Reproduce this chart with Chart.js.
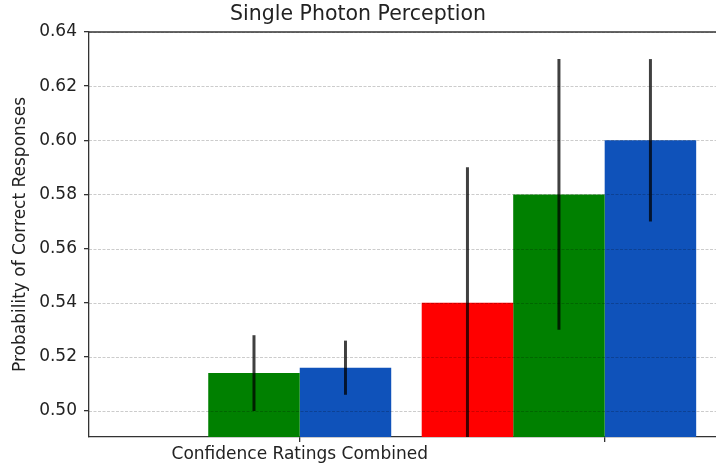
<!DOCTYPE html>
<html>
<head>
<meta charset="utf-8">
<script src="https://cdn.jsdelivr.net/npm/chart.js@4.4.1/dist/chart.umd.min.js"></script>
<style>
  html, body { margin: 0; padding: 0; background: #fff; }
  #wrap { width: 716px; height: 467px; }
</style>
</head>
<body>
<div id="wrap"><canvas id="chart" width="716" height="467"></canvas></div>
<script>
// centres des groupes de barres, et positions / étiquettes des graduations x
const groupes = [0, 1];
const ticksX = [0.15, 1.15];
const etiquettesX = ["Confidence Ratings Combined", ""];

// probabilités moyennes et barres d'erreur par série
const valeursRouge = [null, 0.54];
const erreursRouge = [null, 0.05];
const valeursVert = [0.514, 0.58];
const erreursVert = [0.014, 0.05];
const valeursBleu = [0.516, 0.60];
const erreursBleu = [0.01, 0.03];

const ticksY = [0.50, 0.52, 0.54, 0.56, 0.58, 0.60, 0.62, 0.64];

const texte = "#222";
const police = "'DejaVu Sans', sans-serif";

function serie(valeurs, erreurs, couleur) {
    return {
        data: groupes.map((g, i) => ({ x: g, y: valeurs[i] })),
        erreurs: erreurs,
        backgroundColor: couleur,
        borderWidth: 0,
        barPercentage: 1.0,
        categoryPercentage: 0.9
    };
}

// grille pointillée, barres d'erreur et bord haut par-dessus les barres
const dessusBarres = {
    id: "dessusBarres",
    afterDatasetsDraw(chart) {
        const ctx = chart.ctx;
        const zone = chart.chartArea;
        const y = chart.scales.y;

        ctx.save();
        ctx.beginPath();
        ctx.rect(zone.left, zone.top, zone.right - zone.left, zone.bottom - zone.top);
        ctx.clip();

        ctx.strokeStyle = "rgba(0,0,0,0.2)";
        ctx.lineWidth = 1;
        ctx.setLineDash([3, 1.5]);
        ticksY.forEach(t => {
            const py = Math.round(y.getPixelForValue(t)) + 0.5;
            ctx.beginPath();
            ctx.moveTo(zone.left, py);
            ctx.lineTo(zone.right, py);
            ctx.stroke();
        });
        ctx.setLineDash([]);

        ctx.strokeStyle = "rgba(0,0,0,0.75)";
        ctx.lineWidth = 3;
        chart.data.datasets.forEach((ds, d) => {
            const meta = chart.getDatasetMeta(d);
            meta.data.forEach((barre, i) => {
                const v = ds.data[i].y;
                const e = ds.erreurs[i];
                if (v == null || e == null) return;
                ctx.beginPath();
                ctx.moveTo(barre.x, y.getPixelForValue(v - e));
                ctx.lineTo(barre.x, y.getPixelForValue(v + e));
                ctx.stroke();
            });
        });
        ctx.restore();

        ctx.save();
        ctx.strokeStyle = "#333";
        ctx.lineWidth = 1.3;
        ctx.beginPath();
        ctx.moveTo(zone.left, zone.top);
        ctx.lineTo(zone.right, zone.top);
        ctx.stroke();
        ctx.restore();
    }
};

new Chart(document.getElementById("chart"), {
    type: "bar",
    data: {
        datasets: [
            serie(valeursRouge, erreursRouge, "#ff0000"),
            serie(valeursVert, erreursVert, "#008000"),
            serie(valeursBleu, erreursBleu, "#0f52ba")
        ]
    },
    plugins: [dessusBarres],
    options: {
        responsive: false,
        animation: false,
        layout: { padding: 0 },
        plugins: {
            legend: { display: false },
            tooltip: { enabled: false },
            title: {
                display: true,
                text: "Single Photon Perception",
                color: texte,
                font: { family: police, size: 20.5, weight: "normal" },
                padding: { top: 2, bottom: 5.4 }
            }
        },
        scales: {
            x: {
                type: "linear",
                min: -0.541,
                max: 1.515,
                offset: false,
                afterBuildTicks: s => { s.ticks = ticksX.map(t => ({ value: t })); },
                afterFit: s => { s.height = 30; },
                ticks: {
                    color: texte,
                    font: { family: police, size: 17 },
                    padding: 2,
                    maxRotation: 0,
                    autoSkip: false,
                    callback: (v, i) => etiquettesX[i]
                },
                grid: { offset: false, drawOnChartArea: false, drawTicks: true, tickLength: 5, color: "#333", lineWidth: 1.3 },
                border: { display: true, color: "#333", width: 1.3 }
            },
            y: {
                min: 0.4904,
                max: 0.64,
                afterBuildTicks: s => { s.ticks = ticksY.map(t => ({ value: t })); },
                afterFit: s => { s.width = 89; },
                ticks: {
                    color: texte,
                    font: { family: police, size: 17 },
                    padding: 7,
                    callback: v => v.toFixed(2)
                },
                title: {
                    display: true,
                    text: "Probability of Correct Responses",
                    color: texte,
                    font: { family: police, size: 17 },
                    padding: { top: 10, bottom: 0 }
                },
                grid: { drawOnChartArea: false, drawTicks: true, tickLength: 5, color: "#333", lineWidth: 1.3 },
                border: { display: true, color: "#333", width: 1.3 }
            }
        }
    }
});
</script>
</body>
</html>
